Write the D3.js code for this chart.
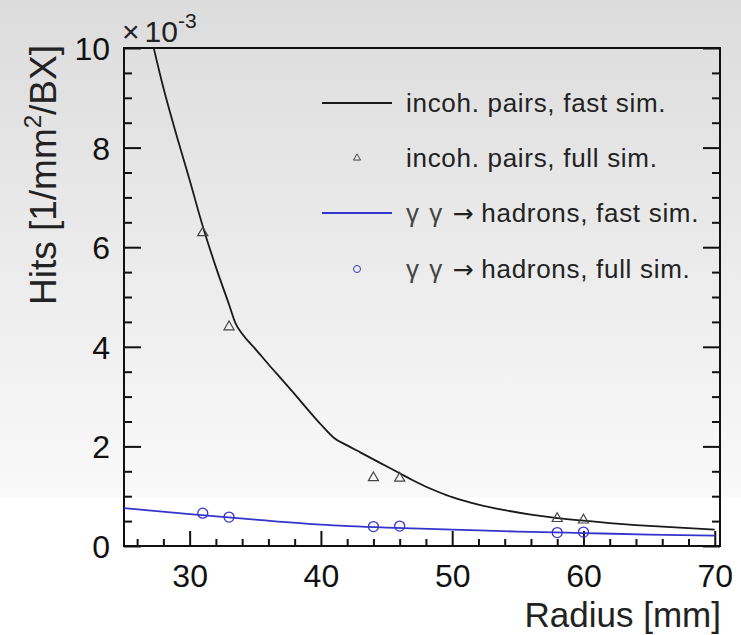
<!DOCTYPE html>
<html>
<head>
<meta charset="utf-8">
<script src="https://cdn.jsdelivr.net/npm/d3@7"></script>
<style>
  html, body { margin: 0; padding: 0; background: #fff; }
  svg { display: block; font-family: "Liberation Sans", Arial, sans-serif; }
</style>
</head>
<body>
<div id="chart"></div>
<script>
// values in units of 1e-3 hits / mm^2 / BX
const pairsFastRadius = [27, 28, 29, 30, 31, 32, 33, 33.5, 34, 35, 36, 37, 38, 39, 40, 41, 42, 43, 44, 45, 46, 47, 48, 49, 50, 52, 54, 56, 58, 60, 62, 64, 66, 68, 70];
const pairsFastHits = [10.3, 9.2, 8.25, 7.35, 6.42, 5.6, 4.85, 4.47, 4.26, 3.96, 3.65, 3.35, 3.05, 2.74, 2.44, 2.17, 2.02, 1.88, 1.74, 1.6, 1.46, 1.32, 1.19, 1.08, 0.98, 0.83, 0.72, 0.63, 0.56, 0.51, 0.46, 0.42, 0.39, 0.36, 0.33];
const hadronsFastRadius = [25, 30, 35, 40, 45, 50, 55, 60, 65, 70];
const hadronsFastHits = [0.76, 0.64, 0.53, 0.43, 0.37, 0.33, 0.29, 0.26, 0.23, 0.21];
const fullSimRadius = [31, 33, 44, 46, 58, 60];
const pairsFullHits = [6.29, 4.4, 1.37, 1.36, 0.55, 0.52];
const hadronsFullHits = [0.66, 0.58, 0.39, 0.40, 0.27, 0.28];
const legendLabels = [
    ["", "incoh. pairs, fast sim."],
    ["", "incoh. pairs, full sim."],
    ["γ γ ", "hadrons, fast sim."],
    ["γ γ ", "hadrons, full sim."]
];

const width = 741, height = 635;
const margin = {top: 48, right: 21, bottom: 89, left: 124};
const blue = "#3434cc";

const svg = d3.select("#chart").append("svg")
    .attr("width", width)
    .attr("height", height);

// background gradient
const grad = svg.append("defs").append("linearGradient")
    .attr("id", "bg").attr("x1", 0).attr("y1", 0).attr("x2", 0).attr("y2", 1);
grad.append("stop").attr("offset", "0%").attr("stop-color", "#dcdcdc");
grad.append("stop").attr("offset", "100%").attr("stop-color", "#f9f9f9");
svg.append("rect").attr("width", width).attr("height", height).attr("fill", "#fff");
svg.append("rect").attr("width", width).attr("height", 497).attr("fill", "url(#bg)");

const x = d3.scaleLinear().domain([25, 70.4]).range([margin.left, width - margin.right]);
const y = d3.scaleLinear().domain([0, 10]).range([height - margin.bottom, margin.top]);

svg.select("defs").append("clipPath").attr("id", "clip")
  .append("rect")
    .attr("x", x(25)).attr("y", y(10))
    .attr("width", x(70.4) - x(25)).attr("height", y(0) - y(10));

// axes, ticks pointing inward
const majorY = d3.range(0, 10.01, 2), minorY = d3.range(0, 10.01, 0.5).filter(v => v % 2 !== 0);
const majorX = [30, 40, 50, 60, 70], minorX = d3.range(26, 70.1, 2).filter(v => v % 10 !== 0);

const axisStyle = g => {
    g.select(".domain").remove();
    g.selectAll("line").attr("stroke", "#111").attr("stroke-width", 2);
    g.selectAll("text").attr("fill", "#111").attr("font-size", 32);
};

svg.append("g").attr("transform", `translate(${x(25)},0)`)
    .call(d3.axisLeft(y).tickValues(majorY).tickSize(-17).tickPadding(14).tickFormat(d3.format("d")))
    .call(axisStyle)
    .selectAll("text").attr("dy", "0.36em");
svg.append("g").attr("transform", `translate(${x(25)},0)`)
    .call(d3.axisLeft(y).tickValues(minorY).tickSize(-8).tickFormat(""))
    .call(axisStyle);
svg.append("g").attr("transform", `translate(${x(70.4)},0)`)
    .call(d3.axisRight(y).tickValues(majorY).tickSize(-17).tickFormat(""))
    .call(axisStyle);
svg.append("g").attr("transform", `translate(${x(70.4)},0)`)
    .call(d3.axisRight(y).tickValues(minorY).tickSize(-8).tickFormat(""))
    .call(axisStyle);
svg.append("g").attr("transform", `translate(0,${y(0)})`)
    .call(d3.axisBottom(x).tickValues(majorX).tickSize(-15).tickPadding(12).tickFormat(d3.format("d")))
    .call(axisStyle)
    .selectAll("text").attr("dy", "0.92em");
svg.append("g").attr("transform", `translate(0,${y(0)})`)
    .call(d3.axisBottom(x).tickValues(minorX).tickSize(-7).tickFormat(""))
    .call(axisStyle);

// frame
svg.append("rect")
    .attr("x", x(25)).attr("y", y(10))
    .attr("width", x(70.4) - x(25)).attr("height", y(0) - y(10))
    .attr("fill", "none").attr("stroke", "#111").attr("stroke-width", 2);

// exponent
const expo = svg.append("text").attr("x", 122).attr("y", 42).attr("font-size", 30).attr("fill", "#222");
expo.append("tspan").text("×");
expo.append("tspan").attr("dx", 5).text("10");
expo.append("tspan").attr("dy", -14).attr("font-size", 21).text("-3");

// axis titles
const yTitle = svg.append("text")
    .attr("transform", `translate(56,${margin.top - 3}) rotate(-90)`)
    .attr("text-anchor", "end").attr("font-size", 37).attr("fill", "#222");
yTitle.append("tspan").text("Hits [1/mm");
yTitle.append("tspan").attr("dy", -15).attr("font-size", 24).text("2");
yTitle.append("tspan").attr("dy", 15).text("/BX]");

svg.append("text")
    .attr("x", 721).attr("y", 627)
    .attr("text-anchor", "end").attr("font-size", 35).attr("fill", "#222")
    .text("Radius [mm]");

// curves
const line = d3.line().x(d => x(d[0])).y(d => y(d[1])).curve(d3.curveMonotoneX);
const plot = svg.append("g").attr("clip-path", "url(#clip)");

plot.append("path")
    .datum(d3.zip(pairsFastRadius, pairsFastHits))
    .attr("d", line)
    .attr("fill", "none").attr("stroke", "#1a1a1a").attr("stroke-width", 1.8);

plot.append("path")
    .datum(d3.zip(hadronsFastRadius, hadronsFastHits))
    .attr("d", line)
    .attr("fill", "none").attr("stroke", blue).attr("stroke-width", 1.8);

const triangle = d3.symbol().type(d3.symbolTriangle).size(44);

svg.append("g").selectAll("path")
    .data(d3.zip(fullSimRadius, pairsFullHits))
    .join("path")
    .attr("d", triangle)
    .attr("transform", d => `translate(${x(d[0])},${y(d[1])})`)
    .attr("fill", "none").attr("stroke", "#444").attr("stroke-width", 1.2);

svg.append("g").selectAll("circle")
    .data(d3.zip(fullSimRadius, hadronsFullHits))
    .join("circle")
    .attr("cx", d => x(d[0])).attr("cy", d => y(d[1])).attr("r", 5)
    .attr("fill", "none").attr("stroke", blue).attr("stroke-width", 1.3);

// legend
const legend = svg.append("g");
const rowY = [103, 158, 213, 269];
legendLabels.forEach((lab, i) => {
    const ry = rowY[i];
    if (i === 0 || i === 2) {
        legend.append("line")
            .attr("x1", 322).attr("x2", 392).attr("y1", ry).attr("y2", ry)
            .attr("stroke", i === 0 ? "#1a1a1a" : blue).attr("stroke-width", 1.8);
    } else if (i === 1) {
        legend.append("path").attr("d", d3.symbol().type(d3.symbolTriangle).size(22))
            .attr("transform", `translate(357,${ry})`)
            .attr("fill", "none").attr("stroke", "#444").attr("stroke-width", 1);
    } else {
        legend.append("circle").attr("cx", 357).attr("cy", ry).attr("r", 3.5)
            .attr("fill", "none").attr("stroke", blue).attr("stroke-width", 1);
    }
    const t = legend.append("text").attr("x", 406).attr("y", ry + 9)
        .attr("font-size", 26).attr("letter-spacing", 0.7).attr("fill", "#222");
    if (lab[0]) {
        t.append("tspan").attr("fill", "#444").attr("letter-spacing", 1.5).text(lab[0]);
        t.append("tspan").attr("font-family", "DejaVu Sans").attr("font-size", 25)
            .attr("letter-spacing", 0).text("→ ");
    }
    t.append("tspan").text(lab[1]);
});
</script>
</body>
</html>
